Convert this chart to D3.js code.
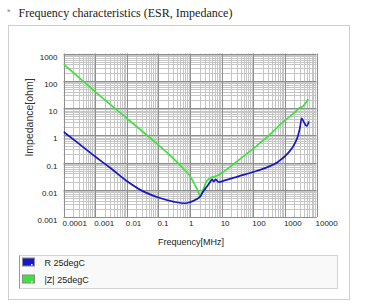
<!DOCTYPE html>
<html><head><meta charset="utf-8">
<script src="https://cdn.jsdelivr.net/npm/d3@7"></script>
<style>html,body{margin:0;padding:0;background:#fff;}svg{display:block;}</style>
</head><body>
<script>
// ---- data ----
const title = "Frequency characteristics (ESR, Impedance)";
const xTickLabels = ["0.0001","0.001","0.01","0.1","1","10","100","1000","10000"];
const yTickLabels = ["0.001","0.01","0.1","1","10","100","1000"];
const xTitle = "Frequency[MHz]";
const yTitle = "Impedance[ohm]";
const seriesNames = ["R 25degC", "|Z| 25degC"];
const seriesColors = ["#1717c4", "#3ee23e"];

// R (ESR) : frequency [MHz], value [ohm]
const rFreq = [0.0001,0.00032,0.001,0.0032,0.01,0.032,0.1,0.32,0.7,1.0,1.5,2.1,2.5,3.4,4.3,5.0,5.6,6.5,8,12.6,34,89,234,617,1260,2090,2630,3020,3390,4070,4900,5750];
const rVal  = [1.35,0.47,0.166,0.060,0.021,0.0089,0.0052,0.0036,0.0032,0.0035,0.0043,0.0056,0.008,0.013,0.019,0.024,0.020,0.024,0.019,0.022,0.031,0.043,0.062,0.107,0.22,0.51,1.0,2.0,4.2,2.9,2.2,3.2];

// |Z| : frequency [MHz], value [ohm]
const zFreq = [0.0001,0.001,0.01,0.1,0.3,0.6,1.0,1.26,1.8,2.1,2.3,2.6,3.4,4.3,6.2,8,26,89,295,794,2090,3020,3550,5500];
const zVal  = [410,40,4.2,0.44,0.14,0.062,0.032,0.020,0.0087,0.0056,0.0063,0.010,0.021,0.027,0.031,0.035,0.095,0.29,0.92,2.8,7.0,10.5,11.2,21];

// ---- drawing ----
const W = 368, H = 306;
const svg = d3.select("body").append("svg").attr("width", W).attr("height", H);

// outer panel
svg.append("rect").attr("x", 8.5).attr("y", 25.5).attr("width", 341).attr("height", 274)
  .attr("fill", "#fff").attr("stroke", "#cfcfcf");

// title
svg.append("text").attr("x", 7).attr("y", 15).attr("font-family", "Liberation Sans").attr("font-size", 9)
  .attr("fill", "#888").text("*");
svg.append("text").attr("x", 18.5).attr("y", 16.5).attr("font-family", "Liberation Serif")
  .attr("font-size", 12).attr("fill", "#222").text(title);

const x = d3.scaleLog().domain([1e-4, 1e4]).range([63.5, 316.5]);
const y = d3.scaleLog().domain([1e-3, 1e3]).range([217, 53.5]);

const g = svg.append("g");
g.append("rect").attr("x", x.range()[0]).attr("y", y.range()[1])
  .attr("width", x.range()[1]-x.range()[0]).attr("height", y.range()[0]-y.range()[1]).attr("fill", "#fff");

const isMajor = v => Math.abs(Math.log10(v) - Math.round(Math.log10(v))) < 1e-6;
const xt = x.ticks(), yt = y.ticks();
const px = v => Math.round(x(v)) + 0.5, py = v => Math.round(y(v)) + 0.5;

// minor grid
g.selectAll(".vmin").data(xt.filter(v => !isMajor(v))).join("line")
  .attr("x1", px).attr("x2", px).attr("y1", y.range()[1]).attr("y2", y.range()[0])
  .attr("stroke", "#c6c6c6").attr("stroke-width", 1);
g.selectAll(".hmin").data(yt.filter(v => !isMajor(v))).join("line")
  .attr("y1", py).attr("y2", py).attr("x1", x.range()[0]).attr("x2", x.range()[1])
  .attr("stroke", "#c6c6c6").attr("stroke-width", 1);
// major grid
g.selectAll(".vmaj").data(xt.filter(isMajor)).join("line")
  .attr("x1", px).attr("x2", px).attr("y1", y.range()[1]).attr("y2", y.range()[0])
  .attr("stroke", "#8e8e8e").attr("stroke-width", 1);
g.selectAll(".hmaj").data(yt.filter(isMajor)).join("line")
  .attr("y1", py).attr("y2", py).attr("x1", x.range()[0]).attr("x2", x.range()[1])
  .attr("stroke", "#8e8e8e").attr("stroke-width", 1);

// tick labels
g.selectAll(".xl").data(xTickLabels).join("text")
  .attr("x", (d) => x(+d) - 1).attr("y", 226)
  .attr("font-family", "Liberation Sans").attr("font-size", 8).attr("fill", "#222")
  .attr("text-anchor", "start").text(d => d);
g.selectAll(".yl").data(yTickLabels).join("text")
  .attr("x", 57.5).attr("y", d => Math.min(y(+d) + 6, 225.5))
  .attr("font-family", "Liberation Sans").attr("font-size", 8).attr("fill", "#222")
  .attr("text-anchor", "end").text(d => d);

// axis titles
svg.append("text").attr("x", 191).attr("y", 245).attr("text-anchor", "middle")
  .attr("font-family", "Liberation Sans").attr("font-size", 9).attr("fill", "#222").text(xTitle);
svg.append("text").attr("transform", "translate(32.5,117.5) rotate(-90)").attr("text-anchor", "middle")
  .attr("font-family", "Liberation Sans").attr("font-size", 10.5).attr("fill", "#333").text(yTitle);

// curves
const line = d3.line().x(d => x(d[0])).y(d => y(d[1])).curve(d3.curveMonotoneX);
svg.append("clipPath").attr("id", "pc").append("rect")
  .attr("x", x.range()[0]).attr("y", y.range()[1]).attr("width", x.range()[1]-x.range()[0]).attr("height", y.range()[0]-y.range()[1]);
g.append("path").datum(d3.zip(zFreq, zVal)).attr("d", line).attr("fill", "none")
  .attr("stroke", seriesColors[1]).attr("stroke-width", 1.7).attr("clip-path", "url(#pc)");
g.append("path").datum(d3.zip(rFreq, rVal)).attr("d", line).attr("fill", "none")
  .attr("stroke", seriesColors[0]).attr("stroke-width", 1.7).attr("clip-path", "url(#pc)");

// legend
const lg = svg.append("g");
lg.append("rect").attr("x", 19.5).attr("y", 255.5).attr("width", 318).attr("height", 33)
  .attr("fill", "#f9f9f9").attr("stroke", "#d4d4d4");
lg.append("line").attr("x1", 19.5).attr("x2", 19.5).attr("y1", 255.5).attr("y2", 288.5).attr("stroke", "#9a9a9a");
const ly = [262.5, 279.5];
seriesNames.forEach((n, i) => {
  lg.append("rect").attr("x", 22.5).attr("y", ly[i]-4.5).attr("width", 12).attr("height", 8)
    .attr("fill", seriesColors[i]).attr("stroke", "#8a8a8a");
  lg.append("rect").attr("x", 31).attr("y", ly[i]+1.5).attr("width", 1.5).attr("height", 1.5).attr("fill", "#fff");
  lg.append("text").attr("x", 44.5).attr("y", ly[i]+3.5).attr("font-family", "Liberation Sans")
    .attr("font-size", 9).attr("fill", "#222").text(n);
});
</script>
</body></html>
